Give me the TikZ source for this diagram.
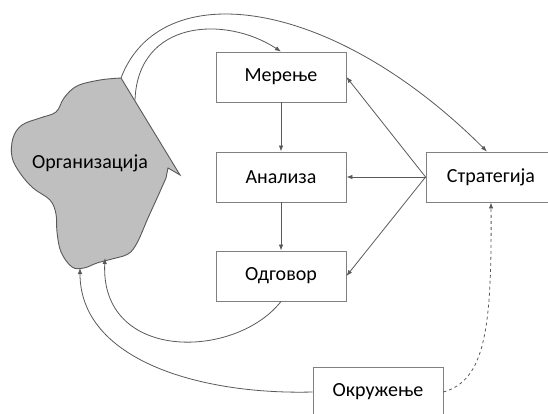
\documentclass[tikz,border=0pt]{standalone}
\usepackage{fontspec}
\setmainfont{Carlito}
\usetikzlibrary{arrows.meta}
\begin{document}
\begin{tikzpicture}[x=1pt,y=-1pt,
	>={Latex[length=6pt,width=4.5pt]},
	box/.style={draw=black!50,line width=0.9pt,minimum width=130pt,minimum height=50pt,font=\fontsize{20}{24}\selectfont},
	link/.style={->,draw=black!65,line width=0.8pt}]
	\useasboundingbox (0,0) rectangle (548,414);
	
	% organizacija
	\draw[fill=black!25,draw=black!65,line width=0.9pt] plot[smooth,tension=0.6] coordinates {(121,78) (100,80) (77,86) (64,98) (56,112) (40,118) (22,125) (13,138) (12,157) (20,173) (33,188) (50,200) (56,214) (57,232) (61,252) (72,267) (84,268) (97,263) (112,259) (128,254) (137,243) (148,218) (158,196) (166,178)} -- (168,168) -- (180,175) -- cycle;
	\node[font=\fontsize{20}{24}\selectfont] (org) at (90,163) {Организација};
	\coordinate (orgA) at (121,78);
	\coordinate (orgB) at (135,100);
	\coordinate (orgC) at (105,258);
	\coordinate (orgD) at (80,268);
	
	\node[box] (meren) at (281,77) {Мерење};
	\node[box] (analiza) at (281,177) {Анализа};
	\node[box] (odgovor) at (281,276) {Одговор};
	\node[box] (strategija) at (491,177) {Стратегија};
	\node[box] (okruzenje) at (378,392) {Окружење};
	
	\draw[link] (orgA) .. controls (160,-25) and (330,-5) .. (strategija.north -| 487,0);
	\draw[link] (orgB) .. controls (138,20) and (225,15) .. (meren.north);
	\draw[link] (meren) -- (analiza);
	\draw[link] (analiza) -- (odgovor);
	\draw[link] (strategija.west) -- (analiza.east);
	\draw[link] (strategija.west) -- (meren.east);
	\draw[link] (strategija.west) -- (odgovor.east);
	\draw[link] (odgovor.south) .. controls (235,360) and (100,362) .. (orgC);
	\draw[link] (okruzenje.west) .. controls (200,395) and (80,360) .. (orgD);
	\draw[link,dashed] (okruzenje.east) .. controls (485,380) and (492,330) .. (strategija.south);
\end{tikzpicture}
\end{document}
